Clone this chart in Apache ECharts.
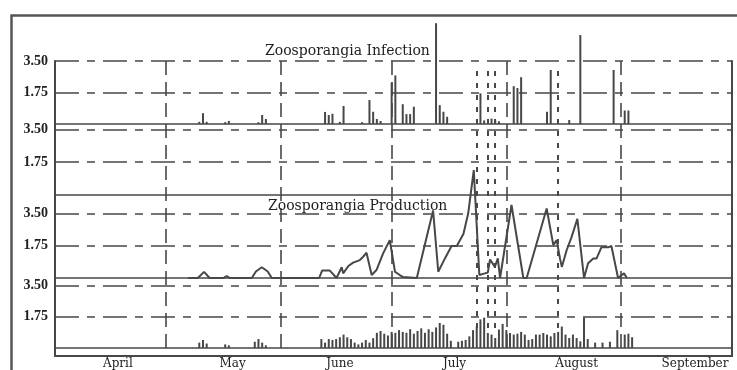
<!DOCTYPE html>
<html>
<head>
<meta charset="utf-8">
<script src="https://cdn.jsdelivr.net/npm/echarts@6/dist/echarts.min.js"></script>
<style>
  html, body { margin: 0; padding: 0; background: #fff; }
  #chart { width: 737px; height: 370px; }
</style>
</head>
<body>
<div id="chart"></div>
<script>
// Season axis: day 0 = 1 April, day 183 = 1 October
const months = ['April', 'May', 'June', 'July', 'August', 'September'];
const monthLabelAt = [17, 48, 77, 108, 141, 173];
const monthStarts = [30, 61, 91, 122, 153];
const seasonEnd = 183;
const yTickValues = [1.75, 3.5];
const yTickLabels = ['1.75', '3.50'];

// Zoosporangia infection, [day, value]
const infection = [
  [39, 0.12], [40, 0.6], [41, 0.12], [46, 0.1], [47, 0.17], [55, 0.1], [56, 0.5], [57, 0.28],
  [73, 0.67], [74, 0.5], [75, 0.57], [77, 0.12], [78, 1.0], [83, 0.1], [85, 1.33], [86, 0.68],
  [87, 0.28], [88, 0.17], [91, 2.3], [92, 2.7], [94, 1.1], [95, 0.55], [96, 0.55], [97, 0.96],
  [103, 5.6], [104, 1.05], [105, 0.68], [106, 0.4], [115, 1.7], [116, 0.2], [118, 0.3],
  [119, 0.2], [120, 0.15], [124, 2.1], [125, 2.0], [126, 2.6], [133, 0.68], [134, 3.0],
  [139, 0.22], [142, 4.94], [151, 3.0], [154, 0.75], [155, 0.75]
];

// Zoosporangia production, [day, value]
const production = [
  [36, 0], [38.6, 0], [40.3, 0.33], [41.8, 0], [45.5, 0], [46.4, 0.1], [47.3, 0], [53.2, 0],
  [54.3, 0.35], [55.9, 0.58], [57.5, 0.35], [58.6, 0], [71.4, 0], [72.2, 0.4], [74.3, 0.4],
  [76.1, 0], [77.5, 0.58], [77.9, 0.25], [79.3, 0.65], [80.6, 0.83], [82.4, 0.97], [83.3, 1.15],
  [84.2, 1.37], [85.6, 0.16], [86.9, 0.43], [88.7, 1.33], [90.5, 2.05], [91.9, 0.34], [93.2, 0.16],
  [94.1, 0.05], [97.8, 0], [102.2, 3.65], [103.6, 0.34], [105.4, 1.06], [107.2, 1.73],
  [108.6, 1.73], [110.4, 2.38], [111.7, 3.5], [113.2, 5.84], [114.7, 0.16], [116.2, 0.25],
  [117, 0.3], [117.6, 1.0], [118.9, 0.6], [119.7, 1.06], [120.3, 0], [123.4, 3.95], [126.6, 0],
  [127.5, 0], [132.9, 3.76], [134.7, 1.78], [135.6, 2.05], [136.5, 1.06], [137, 0.6], [138.3, 1.5],
  [139.6, 2.2], [141.2, 3.2], [143, 0], [144.1, 0.8], [145.5, 1.06], [146.4, 1.06], [147.7, 1.66],
  [149.5, 1.66], [150.4, 1.73], [150.8, 1.66], [152.2, 0], [153.8, 0.25], [154.6, 0]
];

// Daily sporangia counts in the lowest panel, [day, value]
const sporangia = [
  [39, 0.3], [40, 0.45], [41, 0.25], [46, 0.2], [47, 0.15], [54, 0.35], [55, 0.5], [56, 0.3], [57, 0.15],
  [72, 0.5], [73, 0.3], [74, 0.5], [75, 0.45], [76, 0.5], [77, 0.6], [78, 0.75], [79, 0.6], [80, 0.5],
  [81, 0.3], [82, 0.2], [83, 0.3], [84, 0.45], [85, 0.3], [86, 0.55], [87, 0.85], [88, 0.95], [89, 0.8],
  [90, 0.7], [91, 0.9], [92, 0.85], [93, 1.0], [94, 0.9], [95, 0.85], [96, 1.05], [97, 0.8], [98, 0.95],
  [99, 1.1], [100, 0.85], [101, 1.05], [102, 0.9], [103, 1.15], [104, 1.4], [105, 1.3], [106, 0.8],
  [107, 0.4], [109, 0.35], [110, 0.4], [111, 0.45], [112, 0.65], [113, 1.0], [114, 1.2], [115, 1.6],
  [116, 1.7], [117, 0.84], [118, 0.75], [119, 0.56], [120, 1.03], [121, 1.35], [122, 1.0], [123, 0.84],
  [124, 0.75], [125, 0.8], [126, 0.9], [127, 0.75], [128, 0.45], [129, 0.5], [130, 0.75], [131, 0.75],
  [132, 0.84], [133, 0.75], [134, 0.65], [135, 0.84], [136, 0.9], [137, 1.2], [138, 0.75], [139, 0.56],
  [140, 0.75], [141, 0.56], [142, 0.37], [143, 1.7], [144, 0.5], [146, 0.3], [148, 0.3], [150, 0.35],
  [152, 1.0], [154, 0.75], [155, 0.8], [156, 0.6]
];

// Sampling dates marked with dotted verticals
const markerDays = [114, 117, 119, 136];

const INK = '#474747';
const TEXT = '#222222';
const SERIF = '"Liberation Serif", "DejaVu Serif", serif';
const WIDE_SERIF = '"DejaVu Serif", "Liberation Serif", serif';
const HDASH = [24, 8, 8, 8];

const L = 55, R = 5;
const grids = [
  { left: L, right: R, top: 61, height: 295 },   // frame: month lines, side lines, month labels
  { left: L, right: R, top: 61, height: 63 },    // infection
  { left: L, right: R, top: 124, height: 71 },   // empty middle panel
  { left: L, right: R, top: 195, height: 83 },   // production
  { left: L, right: R, top: 278, height: 78 },   // bottom bars
  { left: L, right: R, top: 66, height: 262 }    // dotted markers
];
const panelY = [
  null,
  { min: 0, max: 3.5 },
  { min: 0, max: 3.78 },
  { min: 0, max: 4.49 },
  { min: -0.45, max: 3.92 }
];

const xAxes = [];
const yAxes = [];

// frame grid: xAxis 0, yAxis 0 (left) and 1 (right)
xAxes.push({
  gridIndex: 0, type: 'value', min: 0, max: seasonEnd, position: 'bottom',
  axisLine: { show: true, onZero: false, lineStyle: { color: INK, width: 2 } },
  axisTick: { show: false, customValues: monthStarts },
  axisLabel: {
    show: true, customValues: monthLabelAt, margin: 2,
    fontFamily: WIDE_SERIF, fontSize: 12, color: TEXT,
    formatter: v => months[monthLabelAt.indexOf(v)] || ''
  },
  splitLine: { show: true, lineStyle: { color: INK, width: 1.6, type: [14, 7] } }
});
yAxes.push({
  gridIndex: 0, type: 'value', min: 0, max: 1, position: 'left',
  axisLine: { show: true, lineStyle: { color: INK, width: 2 } },
  axisTick: { show: false }, axisLabel: { show: false }, splitLine: { show: false }
});
yAxes.push({
  gridIndex: 0, type: 'value', min: 0, max: 1, position: 'right',
  axisLine: { show: true, lineStyle: { color: INK, width: 2 } },
  axisTick: { show: false }, axisLabel: { show: false }, splitLine: { show: false }
});

// panel grids 1..4: xAxis 1..4, yAxis 2..5
for (let g = 1; g <= 4; g++) {
  xAxes.push({
    gridIndex: g, type: 'value', min: 0, max: seasonEnd,
    axisLine: { show: true, onZero: true, lineStyle: { color: INK, width: 1.6 } },
    axisTick: { show: false }, axisLabel: { show: false }, splitLine: { show: false }
  });
  yAxes.push({
    gridIndex: g, type: 'value', min: panelY[g].min, max: panelY[g].max,
    axisLine: { show: false },
    axisTick: { show: false, customValues: yTickValues },
    axisLabel: {
      show: true, customValues: yTickValues, margin: 7,
      fontFamily: SERIF, fontSize: 14, fontWeight: 'bold', color: TEXT,
      formatter: v => yTickLabels[yTickValues.indexOf(v)] || ''
    },
    splitLine: { show: true, lineStyle: { color: INK, width: 1.6, type: HDASH } }
  });
}

// markers grid: xAxis 5, yAxis 6
xAxes.push({ gridIndex: 5, type: 'value', min: 0, max: seasonEnd, show: false });
yAxes.push({ gridIndex: 5, type: 'value', min: 0, max: 1, show: false });

const chart = echarts.init(document.getElementById('chart'), null, { renderer: 'canvas' });
chart.setOption({
  backgroundColor: '#ffffff',
  animation: false,
  title: [
    { text: 'Zoosporangia Infection', left: 265, top: 44, padding: 0,
      textStyle: { fontFamily: WIDE_SERIF, fontSize: 14, fontWeight: 'normal', color: TEXT } },
    { text: 'Zoosporangia Production', left: 268, top: 199, padding: 0,
      textStyle: { fontFamily: WIDE_SERIF, fontSize: 14, fontWeight: 'normal', color: TEXT } }
  ],
  graphic: [{
    type: 'rect', left: 9, top: 13, silent: true,
    shape: { width: 760, height: 400 },
    style: { fill: 'none', stroke: '#555', lineWidth: 2.5 }
  }],
  grid: grids,
  xAxis: xAxes,
  yAxis: yAxes,
  series: [
    {
      type: 'bar', name: 'Infection', xAxisIndex: 1, yAxisIndex: 2, data: infection,
      barWidth: 2, clip: false, itemStyle: { color: INK }
    },
    {
      type: 'line', name: 'Production', xAxisIndex: 3, yAxisIndex: 4, data: production,
      showSymbol: false, clip: false, lineStyle: { color: INK, width: 2 }
    },
    {
      type: 'bar', name: 'Sporangia', xAxisIndex: 4, yAxisIndex: 5, data: sporangia,
      barWidth: 2, clip: false, itemStyle: { color: INK }
    },
    {
      type: 'line', name: 'Markers', xAxisIndex: 5, yAxisIndex: 6,
      data: markerDays.map(d => [d, 0]), showSymbol: false, lineStyle: { opacity: 0 },
      markLine: {
        silent: true, symbol: 'none', label: { show: false },
        lineStyle: { color: INK, width: 2, type: [5, 7] },
        data: markerDays.map(d => ({ xAxis: d }))
      }
    }
  ]
});
</script>
</body>
</html>
